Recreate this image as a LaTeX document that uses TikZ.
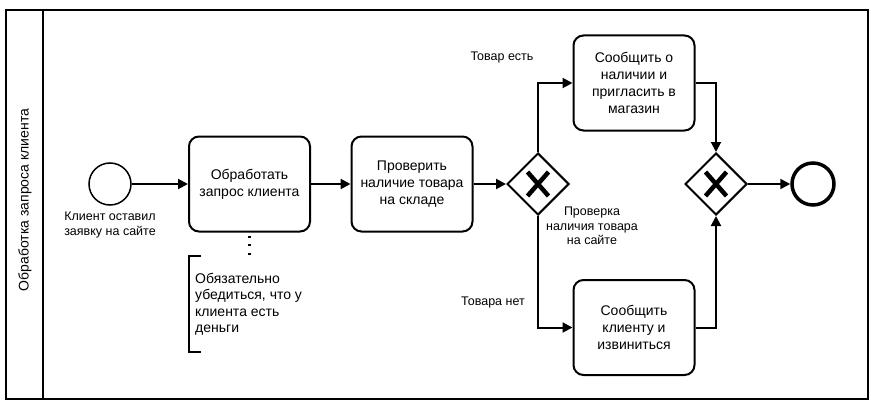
\documentclass[tikz,border=0pt]{standalone}
\usepackage{fontspec}
\setmainfont{Liberation Sans}
\usetikzlibrary{arrows.meta,shapes.geometric}
\begin{document}
\begin{tikzpicture}[x=1pt,y=-1pt,
  flow/.style={line width=2pt,-{Triangle[length=10pt,width=10pt]}},
  task/.style={draw,line width=2pt,rounded corners=10pt,minimum width=121pt,minimum height=95pt,align=center,inner sep=0pt,font=\fontsize{14}{17}\selectfont},
  gateway/.style={draw,diamond,aspect=1,line width=2pt,minimum width=62pt,minimum height=62pt,inner sep=0pt,
    path picture={\draw[line width=4.5pt] ([shift={(-10.5pt,-12pt)}]path picture bounding box.center) -- ([shift={(10.5pt,12pt)}]path picture bounding box.center);
                  \draw[line width=4.5pt] ([shift={(-10.5pt,12pt)}]path picture bounding box.center) -- ([shift={(10.5pt,-12pt)}]path picture bounding box.center);}},
  small/.style={align=center,inner sep=0pt,font=\fontsize{12.5}{14.5}\selectfont},
]
\useasboundingbox (0,0) rectangle (871,404);
% pool
\node[draw,line width=2pt,minimum width=862pt,minimum height=389pt,inner sep=0pt,anchor=north west] (pool) at (5,9) {};
\coordinate (divtop) at (43,9);
\coordinate (divbot) at (43,398);
\draw[line width=2pt] (divtop) -- (divbot);
\node[rotate=90,font=\fontsize{14}{17}\selectfont,inner sep=0pt] (lane) at (25,200) {Обработка запроса клиента};
% events
\node[draw,circle,line width=1.5pt,minimum size=42pt,inner sep=0pt] (start) at (110,184) {};
\node[small] (startlbl) at (110,225) {Клиент оставил\\заявку на сайте};
\node[draw,circle,line width=3.5pt,minimum size=42pt,inner sep=0pt] (end) at (813,184) {};
% tasks
\node[task] (t1) at (249.5,184) {Обработать\\запрос клиента};
\node[task] (t2) at (412,184) {Проверить\\наличие товара\\на складе};
\node[task] (t3) at (634,83) {Сообщить о\\наличии и\\пригласить в\\магазин};
\node[task] (t4) at (634,327.5) {Сообщить\\клиенту и\\извиниться};
% gateways
\node[gateway] (g1) at (538,184) {};
\node[gateway] (g2) at (716,184) {};
% labels
\node[small] (yes) at (502,57) {Товар есть};
\node[small] (no) at (493,302) {Товара нет};
\node[small] (g1lbl) at (592,226) {Проверка\\наличия товара\\на сайте};
% annotation
\node[align=left,inner sep=0pt,anchor=west,font=\fontsize{14}{16.5}\selectfont] (note) at (195,304.5) {Обязательно\\убедиться, что у\\клиента есть\\деньги};
\coordinate (brtop) at (189,256);
\coordinate (brtopr) at (201,256);
\coordinate (brbot) at (189,352);
\coordinate (brbotr) at (201,352);
\draw[line width=2pt] (brtopr) -- (brtop) -- (brbot) -- (brbotr);
\draw[line width=2.2pt,dash pattern=on 2.2pt off 6.5pt,dash phase=-3pt] (t1.south) -- (t1.south |- brtop);
% flows
\draw[flow] (start) -- (t1);
\draw[flow] (t1) -- (t2);
\draw[flow] (t2) -- (g1);
\draw[flow] (g1.north) |- (t3.west);
\draw[flow] (g1.south) |- (t4.west);
\draw[flow] (t3.east) -| (g2.north);
\draw[flow] (t4.east) -| (g2.south);
\draw[flow] (g2) -- (end);
\end{tikzpicture}
\end{document}
